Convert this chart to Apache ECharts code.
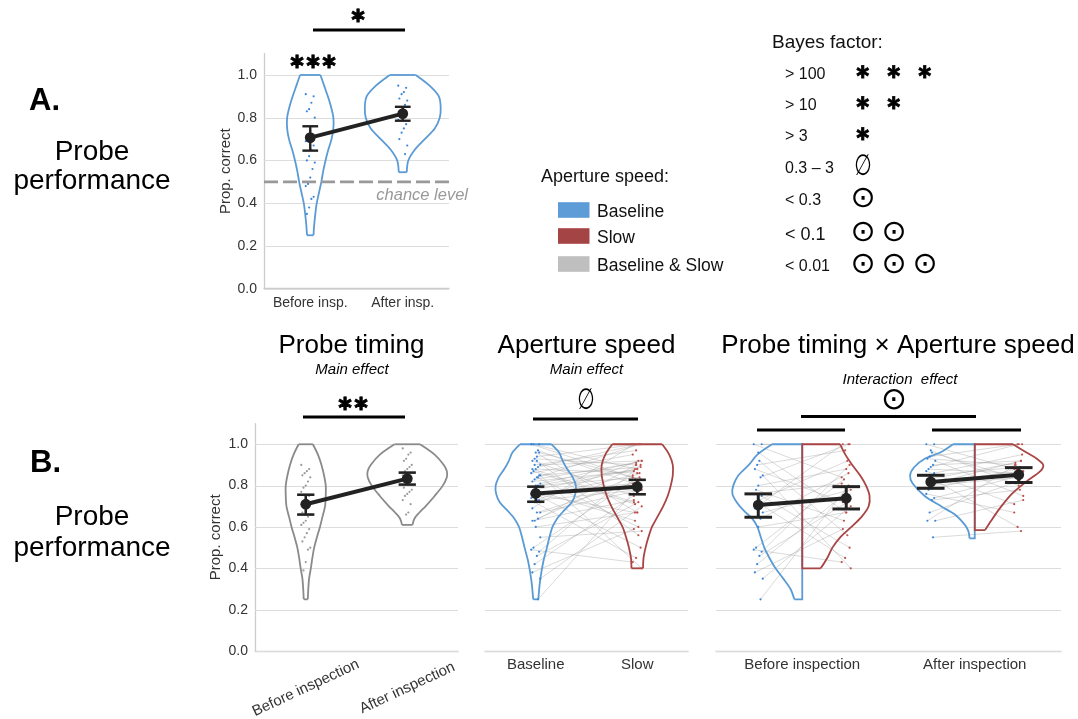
<!DOCTYPE html>
<html><head><meta charset="utf-8">
<script src="https://cdn.jsdelivr.net/npm/echarts@6/dist/echarts.min.js"></script>
<style>html,body{margin:0;padding:0;background:#fff}#c{width:1078px;height:719px}</style>
</head><body><div id="c"></div>
<script>
// ================= DATA =================
const yTicks = [0, 0.2, 0.4, 0.6, 0.8, 1.0];
const chanceLevel = 0.5;

const catsA = ['Before insp.', 'After insp.'];
const catsTiming = ['Before inspection', 'After inspection'];
const catsSpeed = ['Baseline', 'Slow'];

// Panel A (probe performance, baseline)
const meanA = [0.707, 0.819];
const ciLowA = [0.646, 0.786];
const ciHighA = [0.760, 0.851];
const dotsA_before = [0.91, 0.90, 0.87, 0.84, 0.83, 0.80, 0.76, 0.74, 0.70, 0.69, 0.67, 0.65, 0.62, 0.60, 0.59, 0.56, 0.52, 0.49, 0.48, 0.43, 0.42, 0.38, 0.35];
const dotsA_after = [0.95, 0.94, 0.92, 0.91, 0.89, 0.88, 0.86, 0.84, 0.82, 0.79, 0.77, 0.75, 0.73, 0.70, 0.67, 0.63];
// violin profiles: [value, half-width as fraction of category band]
const violinA_before = [[1.0,0.11],[0.95,0.15],[0.9,0.19],[0.85,0.225],[0.8,0.25],[0.75,0.25],[0.7,0.23],[0.65,0.195],[0.6,0.165],[0.55,0.14],[0.5,0.12],[0.45,0.095],[0.4,0.07],[0.35,0.055],[0.3,0.043],[0.25,0.035]];
const violinA_after = [[1.0,0.14],[0.95,0.29],[0.9,0.39],[0.85,0.41],[0.8,0.40],[0.75,0.346],[0.7,0.238],[0.65,0.13],[0.6,0.06],[0.545,0.043]];

// Panel B1 (probe timing, main effect)
const meanTiming = [0.710, 0.834];
const ciLowTiming = [0.660, 0.805];
const ciHighTiming = [0.756, 0.863];
const dotsTiming_before = [0.90, 0.88, 0.87, 0.86, 0.85, 0.84, 0.82, 0.80, 0.79, 0.77, 0.75, 0.73, 0.71, 0.67, 0.66, 0.65, 0.63, 0.62, 0.61, 0.59, 0.57, 0.55, 0.53, 0.50, 0.49, 0.43, 0.39];
const dotsTiming_after = [0.98, 0.96, 0.95, 0.93, 0.92, 0.90, 0.89, 0.88, 0.87, 0.85, 0.84, 0.82, 0.81, 0.79, 0.78, 0.77, 0.76, 0.75, 0.73, 0.71, 0.67, 0.66];
const violinTiming_before = [[1.0,0.07],[0.95,0.12],[0.9,0.155],[0.85,0.18],[0.8,0.197],[0.75,0.197],[0.7,0.19],[0.65,0.165],[0.6,0.14],[0.55,0.11],[0.5,0.083],[0.45,0.065],[0.4,0.05],[0.35,0.033],[0.3,0.025],[0.25,0.02]];
const violinTiming_after = [[1.0,0.126],[0.95,0.27],[0.9,0.36],[0.87,0.39],[0.84,0.39],[0.8,0.35],[0.75,0.27],[0.7,0.18],[0.67,0.12],[0.64,0.07],[0.61,0.052]];

// Panel B2 (aperture speed, main effect)
const meanSpeed = [0.762, 0.795];
const ciLowSpeed = [0.722, 0.758];
const ciHighSpeed = [0.795, 0.828];
const violinSpeed_base = [[1.0,0.156],[0.96,0.23],[0.92,0.265],[0.88,0.31],[0.84,0.365],[0.8,0.395],[0.76,0.39],[0.72,0.355],[0.68,0.28],[0.64,0.21],[0.6,0.165],[0.56,0.14],[0.5,0.11],[0.44,0.078],[0.38,0.055],[0.32,0.038],[0.25,0.025]];
const violinSpeed_slow = [[1.0,0.246],[0.95,0.315],[0.9,0.35],[0.85,0.35],[0.8,0.33],[0.75,0.3],[0.7,0.255],[0.65,0.2],[0.6,0.145],[0.55,0.11],[0.5,0.082],[0.45,0.062],[0.4,0.057]];

// Panel B3 (interaction): per-subject values, index = subject
const beforeBase = [1.00, 1.00, 0.92, 0.90, 0.88, 0.85, 0.84, 0.80, 0.78, 0.76, 0.75, 0.73, 0.72, 0.69, 0.67, 0.64, 0.60, 0.50, 0.49, 0.48, 0.46, 0.42, 0.38, 0.35, 0.25, 0.96];
const beforeSlow = [0.84, 1.00, 0.56, 0.97, 0.72, 0.40, 1.00, 0.88, 0.63, 0.81, 0.50, 0.92, 0.45, 1.00, 0.78, 0.86, 0.67, 0.83, 0.43, 0.90, 0.72, 0.76, 0.59, 0.70, 0.80, 0.67];
const afterBase = [1.00, 1.00, 0.96, 0.94, 0.93, 0.92, 0.90, 0.89, 0.88, 0.87, 0.86, 0.85, 0.84, 0.83, 0.82, 0.81, 0.80, 0.78, 0.76, 0.74, 0.73, 0.67, 0.63, 0.63, 0.55, 0.97];
const afterSlow = [0.88, 1.00, 0.83, 1.00, 0.90, 0.75, 0.92, 1.00, 0.86, 0.71, 0.95, 0.89, 0.60, 0.91, 0.87, 0.92, 0.84, 0.88, 0.67, 0.85, 0.78, 0.82, 0.90, 0.73, 0.58, 0.80];
const meanBefore = [0.706, 0.739];
const ciLowBefore = [0.647, 0.687];
const ciHighBefore = [0.760, 0.795];
const meanAfter = [0.818, 0.853];
const ciLowAfter = [0.787, 0.815];
const ciHighAfter = [0.850, 0.887];
const violinBefore_base = [[1.0,0.175],[0.95,0.26],[0.9,0.31],[0.85,0.37],[0.8,0.4],[0.76,0.405],[0.72,0.38],[0.68,0.34],[0.64,0.29],[0.6,0.26],[0.55,0.24],[0.5,0.22],[0.45,0.19],[0.4,0.155],[0.35,0.11],[0.3,0.068],[0.25,0.046]];
const violinBefore_slow = [[1.0,0.22],[0.95,0.25],[0.9,0.29],[0.85,0.335],[0.8,0.37],[0.75,0.39],[0.7,0.385],[0.65,0.345],[0.6,0.285],[0.55,0.22],[0.5,0.175],[0.45,0.145],[0.4,0.107]];
const violinAfter_base = [[1.0,0.126],[0.96,0.2],[0.93,0.29],[0.89,0.35],[0.85,0.375],[0.81,0.36],[0.75,0.29],[0.7,0.195],[0.66,0.115],[0.61,0.057],[0.58,0.037],[0.545,0.03]];
const violinAfter_slow = [[1.0,0.222],[0.96,0.3],[0.93,0.36],[0.9,0.397],[0.87,0.38],[0.82,0.3],[0.76,0.215],[0.69,0.145],[0.63,0.095],[0.585,0.06]];

// Bayes-factor legend
const bayesRows = ['> 100', '> 10', '> 3', '0.3 – 3', '< 0.3', '< 0.1', '< 0.01'];
const bayesSymbols = ['∗', '∗', '∗', '∅', '⊙', '⊙', '⊙'];
const bayesCounts = [3, 2, 1, 1, 1, 2, 3];
const legendItems = ['Baseline', 'Slow', 'Baseline & Slow'];

// ================= STYLE =================
const FONT = '"Liberation Sans", Arial, sans-serif';
const SYMF = '"DejaVu Sans"';
const BLUE = '#5b9bd5', RED = '#a84444', GREY = '#8a8a8a';
const BLUE_DOT = '#3b86d8', RED_DOT = '#c0504d', GREY_DOT = '#9a9a9a';
const JIT = 4.5;
function jit(i) { return (((i * 7) % 9) - 4) / 4; }

// ================= SERIES HELPERS =================
function gridLines(g) {
  return { type: 'custom', xAxisIndex: g, yAxisIndex: g, z: 1, silent: true,
    data: yTicks.map(v => [0, v]),
    renderItem: (params, api) => {
      const cs = params.coordSys;
      const y = Math.round(api.coord([0, api.value(1)])[1]) + 0.5;
      return { type: 'line', shape: { x1: cs.x, y1: y, x2: cs.x + cs.width, y2: y }, style: { stroke: '#dddddd', lineWidth: 1.2 } };
    } };
}
function violin(g, cat, profile, color, side) {
  return { type: 'custom', xAxisIndex: g, yAxisIndex: g, z: 3, silent: true,
    data: [[cat, profile[0][0]]],
    renderItem: (params, api) => {
      const band = api.size([1, 0])[0];
      const c = api.coord([cat, 0])[0];
      const L = [], R = [];
      profile.forEach(([v, w]) => { const y = api.coord([cat, v])[1]; L.push([c - w * band, y]); R.push([c + w * band, y]); });
      const st = { stroke: color, lineWidth: 1.8, fill: 'none' };
      const n = profile.length - 1, ch = [];
      if (side !== 'right') ch.push({ type: 'polyline', shape: { points: L, smooth: 0.3 }, style: st });
      if (side !== 'left') ch.push({ type: 'polyline', shape: { points: R, smooth: 0.3 }, style: st });
      if (side === 'both') {
        ch.push({ type: 'line', shape: { x1: L[0][0], y1: L[0][1], x2: R[0][0], y2: R[0][1] }, style: st });
        ch.push({ type: 'line', shape: { x1: L[n][0], y1: L[n][1], x2: R[n][0], y2: R[n][1] }, style: st });
      } else {
        const S = side === 'left' ? L : R;
        ch.push({ type: 'polyline', shape: { points: [S[0], [c, S[0][1]], [c, S[n][1]], S[n]] }, style: st });
      }
      return { type: 'group', children: ch };
    } };
}
function dots(g, cat, off, values, color) {
  return { type: 'custom', xAxisIndex: g, yAxisIndex: g, z: 4, silent: true,
    data: values.map((v, i) => [cat, v, i]),
    renderItem: (params, api) => {
      const band = api.size([1, 0])[0];
      const p = api.coord([api.value(0), api.value(1)]);
      return { type: 'circle', shape: { cx: p[0] + off * band + jit(api.value(2)) * JIT, cy: p[1], r: 1.1 }, style: { fill: color } };
    } };
}
function pairs(g, catA, offA, valsA, catB, offB, valsB) {
  return { type: 'custom', xAxisIndex: g, yAxisIndex: g, z: 2, silent: true,
    data: valsA.map((v, i) => [catA, v, catB, valsB[i], i]),
    renderItem: (params, api) => {
      const band = api.size([1, 0])[0];
      const i = api.value(4);
      const p1 = api.coord([api.value(0), api.value(1)]);
      const p2 = api.coord([api.value(2), api.value(3)]);
      return { type: 'line', shape: { x1: p1[0] + offA * band + jit(i) * JIT, y1: p1[1], x2: p2[0] + offB * band + jit(i) * JIT, y2: p2[1] },
        style: { stroke: 'rgba(150,150,150,0.45)', lineWidth: 0.8 } };
    } };
}
function means(g, groups, capFrac, lw) {
  return { type: 'custom', xAxisIndex: g, yAxisIndex: g, z: 6, silent: true,
    data: [[0, groups[0].mean[0]]],
    renderItem: (params, api) => {
      const band = api.size([1, 0])[0];
      const ch = [], st = { stroke: '#222', lineWidth: lw };
      groups.forEach(gr => {
        const pts = gr.pos.map(([cat, off], k) => {
          const m = api.coord([cat, gr.mean[k]]);
          return { x: m[0] + off * band, y: m[1], lo: api.coord([cat, gr.lo[k]])[1], hi: api.coord([cat, gr.hi[k]])[1] };
        });
        ch.push({ type: 'line', shape: { x1: pts[0].x, y1: pts[0].y, x2: pts[1].x, y2: pts[1].y }, style: { stroke: '#222', lineWidth: 4 } });
        pts.forEach(p => {
          const h = capFrac * band / 2;
          ch.push({ type: 'line', shape: { x1: p.x, y1: p.lo, x2: p.x, y2: p.hi }, style: st });
          ch.push({ type: 'line', shape: { x1: p.x - h, y1: p.lo, x2: p.x + h, y2: p.lo }, style: st });
          ch.push({ type: 'line', shape: { x1: p.x - h, y1: p.hi, x2: p.x + h, y2: p.hi }, style: st });
          ch.push({ type: 'circle', shape: { cx: p.x, cy: p.y, r: 5.4 }, style: { fill: '#222' } });
        });
      });
      return { type: 'group', children: ch };
    } };
}
function chanceLine(g) {
  return { type: 'custom', xAxisIndex: g, yAxisIndex: g, z: 5, silent: true,
    data: [[0, chanceLevel]],
    renderItem: (params, api) => {
      const cs = params.coordSys;
      const y = api.coord([0, api.value(1)])[1];
      return { type: 'line', shape: { x1: cs.x, y1: y, x2: cs.x + cs.width, y2: y }, style: { stroke: '#999', lineWidth: 2.8, lineDash: [14, 5] } };
    } };
}

// ================= AXES =================
const grids = [
  { left: 264, top: 53.6, width: 185, height: 235.1 },
  { left: 255, top: 423.6, width: 203, height: 227.4 },
  { left: 485, top: 423.6, width: 203, height: 227.4 },
  { left: 716, top: 423.6, width: 345, height: 227.4 }
].map(g => Object.assign({ outerBoundsMode: 'none', containLabel: false }, g));

function xAx(g, data, label) {
  return { type: 'category', gridIndex: g, data, boundaryGap: true,
    axisLine: { show: true, lineStyle: { color: '#cccccc', width: 1.3 } },
    axisTick: { show: false }, splitLine: { show: false },
    axisLabel: Object.assign({ interval: 0, color: '#333', fontFamily: FONT, fontSize: 15, margin: 6, hideOverlap: false }, label) };
}
function yAx(g, showLabels, nameGap) {
  return { type: 'value', gridIndex: g, min: 0, max: 1.1,
    name: showLabels ? 'Prop. correct' : '', nameLocation: 'middle', nameGap: nameGap,
    nameTextStyle: { color: '#333', fontFamily: FONT, fontSize: 15 },
    axisLine: { show: showLabels, lineStyle: { color: '#cccccc', width: 1.3 } },
    axisTick: { show: false }, splitLine: { show: false },
    axisLabel: { show: showLabels, customValues: yTicks, formatter: v => v.toFixed(1), color: '#333', fontFamily: FONT, fontSize: 14, margin: 7 } };
}

// ================= GRAPHICS (text & annotations) =================
const graphics = [];
function T(text, x, y, font, align, color, extra, styleExtra) {
  graphics.push(Object.assign({ type: 'text', silent: true, x: x, y: y, z: 10,
    style: Object.assign({ text, x: 0, y: 0, font, fill: color || '#000', align: align || 'center', verticalAlign: 'middle', textAlign: align || 'center', textVerticalAlign: 'middle' }, styleExtra || {}) }, extra || {}));
}
function Ln(x1, y1, x2, y2, w) {
  graphics.push({ type: 'line', silent: true, z: 10, shape: { x1, y1, x2, y2 }, style: { stroke: '#000', lineWidth: w || 3 } });
}
function Rc(x, y, w, h, fill) {
  graphics.push({ type: 'rect', silent: true, z: 10, shape: { x, y, width: w, height: h }, style: { fill } });
}
function sym(s, x, y, size) {
  if (s === '∗') T('∗', x, y, 'bold ' + size + 'px ' + SYMF, 'center', '#000', null, { stroke: '#000', lineWidth: 0.8 });
  else if (s === '∅') T('∅', x, y, size + 'px ' + SYMF, 'center', '#000', { scaleX: 0.72, scaleY: 1.05 });
  else T(s, x, y, size + 'px ' + SYMF);
}

// left labels
T('A.', 29, 101, 'bold 31px ' + FONT, 'left');
T('Probe', 92, 152, '28px ' + FONT);
T('performance', 92, 181, '28px ' + FONT);
T('B.', 30, 463, 'bold 31px ' + FONT, 'left');
T('Probe', 92, 517, '28px ' + FONT);
T('performance', 92, 548, '28px ' + FONT);

// panel A annotations
Ln(313, 30, 405, 30, 3.2);
sym('∗', 358, 17, 21);
[297, 313, 329].forEach(x => sym('∗', x, 63, 21));
T('chance level', 468, 195, 'italic 16.5px ' + FONT, 'right', '#999');

// panel B titles
T('Probe timing', 351.5, 346, '26px ' + FONT);
T('Main effect', 352, 370, 'italic 15px ' + FONT);
T('Aperture speed', 586.5, 346, '26px ' + FONT);
T('Main effect', 586.5, 370, 'italic 15px ' + FONT);
T('Probe timing × Aperture speed', 898, 346, '26px ' + FONT);
T('Interaction  effect', 900, 380, 'italic 15px ' + FONT);

Ln(303, 417, 405, 417, 3.2);
[345, 361].forEach(x => sym('∗', x, 405, 21));
Ln(533, 419, 638, 419, 3.2);
sym('∅', 586, 401, 28);
Ln(801, 416.5, 976, 416.5, 3.2);
Ln(757, 430, 845, 430, 3.2);
Ln(932, 430, 1021, 430, 3.2);
sym('⊙', 894, 401, 31);

// aperture legend
T('Aperture speed:', 541, 177, '18px ' + FONT, 'left', '#111');
const legendColors = ['#5d9cd6', '#a54444', '#bfbfbf'];
const legendY = [210, 236, 264];
legendItems.forEach((name, i) => {
  Rc(558, legendY[i] - 7.8, 31.5, 15.6, legendColors[i]);
  T(name, 597, legendY[i] + 2, '17.5px ' + FONT, 'left', '#111');
});

// Bayes legend
T('Bayes factor:', 772, 43, '19px ' + FONT, 'left', '#111');
const rowY = [75, 106, 137, 169, 201, 235, 267];
bayesRows.forEach((r, i) => {
  T(r, 785, rowY[i], (r === '< 0.1' ? '18px ' : '16px ') + FONT, 'left', '#111');
  const s = bayesSymbols[i];
  for (let k = 0; k < bayesCounts[i]; k++) {
    sym(s, 863 + 31 * k, rowY[i] - 2, s === '∗' ? 20 : (s === '⊙' ? 30 : 28));
  }
});

// ================= OPTION =================
const option = {
  animation: false,
  backgroundColor: '#fff',
  textStyle: { fontFamily: FONT },
  grid: grids,
  xAxis: [
    xAx(0, catsA, { fontSize: 14, margin: 7 }),
    xAx(1, catsTiming, { rotate: 25, align: 'center', verticalAlign: 'middle', margin: 37 }),
    xAx(2, catsSpeed, { margin: 6 }),
    xAx(3, catsTiming, { margin: 6 })
  ],
  yAxis: [yAx(0, true, 29), yAx(1, true, 32), yAx(2, false, 0), yAx(3, false, 0)],
  series: [
    gridLines(0), gridLines(1), gridLines(2), gridLines(3),
    // A
    violin(0, 0, violinA_before, BLUE, 'both'),
    violin(0, 1, violinA_after, BLUE, 'both'),
    dots(0, 0, 0, dotsA_before, BLUE_DOT),
    dots(0, 1, 0, dotsA_after, BLUE_DOT),
    chanceLine(0),
    means(0, [{ pos: [[0, 0], [1, 0]], mean: meanA, lo: ciLowA, hi: ciHighA }], 0.17, 2.4),
    // B1
    violin(1, 0, violinTiming_before, GREY, 'both'),
    violin(1, 1, violinTiming_after, GREY, 'both'),
    dots(1, 0, 0, dotsTiming_before, GREY_DOT),
    dots(1, 1, 0, dotsTiming_after, GREY_DOT),
    means(1, [{ pos: [[0, 0], [1, 0]], mean: meanTiming, lo: ciLowTiming, hi: ciHighTiming }], 0.17, 2.6),
    // B2
    pairs(2, 0, 0, beforeBase.concat(afterBase), 1, 0, beforeSlow.concat(afterSlow)),
    violin(2, 0, violinSpeed_base, BLUE, 'both'),
    violin(2, 1, violinSpeed_slow, RED, 'both'),
    dots(2, 0, 0, beforeBase.concat(afterBase), BLUE_DOT),
    dots(2, 1, 0, beforeSlow.concat(afterSlow), RED_DOT),
    means(2, [{ pos: [[0, 0], [1, 0]], mean: meanSpeed, lo: ciLowSpeed, hi: ciHighSpeed }], 0.17, 2.6),
    // B3
    pairs(3, 0, -0.255, beforeBase, 0, 0.255, beforeSlow),
    pairs(3, 1, -0.255, afterBase, 1, 0.255, afterSlow),
    violin(3, 0, violinBefore_base, BLUE, 'left'),
    violin(3, 0, violinBefore_slow, RED, 'right'),
    violin(3, 1, violinAfter_base, BLUE, 'left'),
    violin(3, 1, violinAfter_slow, RED, 'right'),
    dots(3, 0, -0.255, beforeBase, BLUE_DOT),
    dots(3, 0, 0.255, beforeSlow, RED_DOT),
    dots(3, 1, -0.255, afterBase, BLUE_DOT),
    dots(3, 1, 0.255, afterSlow, RED_DOT),
    means(3, [
      { pos: [[0, -0.255], [0, 0.255]], mean: meanBefore, lo: ciLowBefore, hi: ciHighBefore },
      { pos: [[1, -0.255], [1, 0.255]], mean: meanAfter, lo: ciLowAfter, hi: ciHighAfter }
    ], 0.16, 3)
  ],
  graphic: graphics
};
const chart = echarts.init(document.getElementById('c'), null, { renderer: 'canvas' });
chart.setOption(option);
</script></body></html>
